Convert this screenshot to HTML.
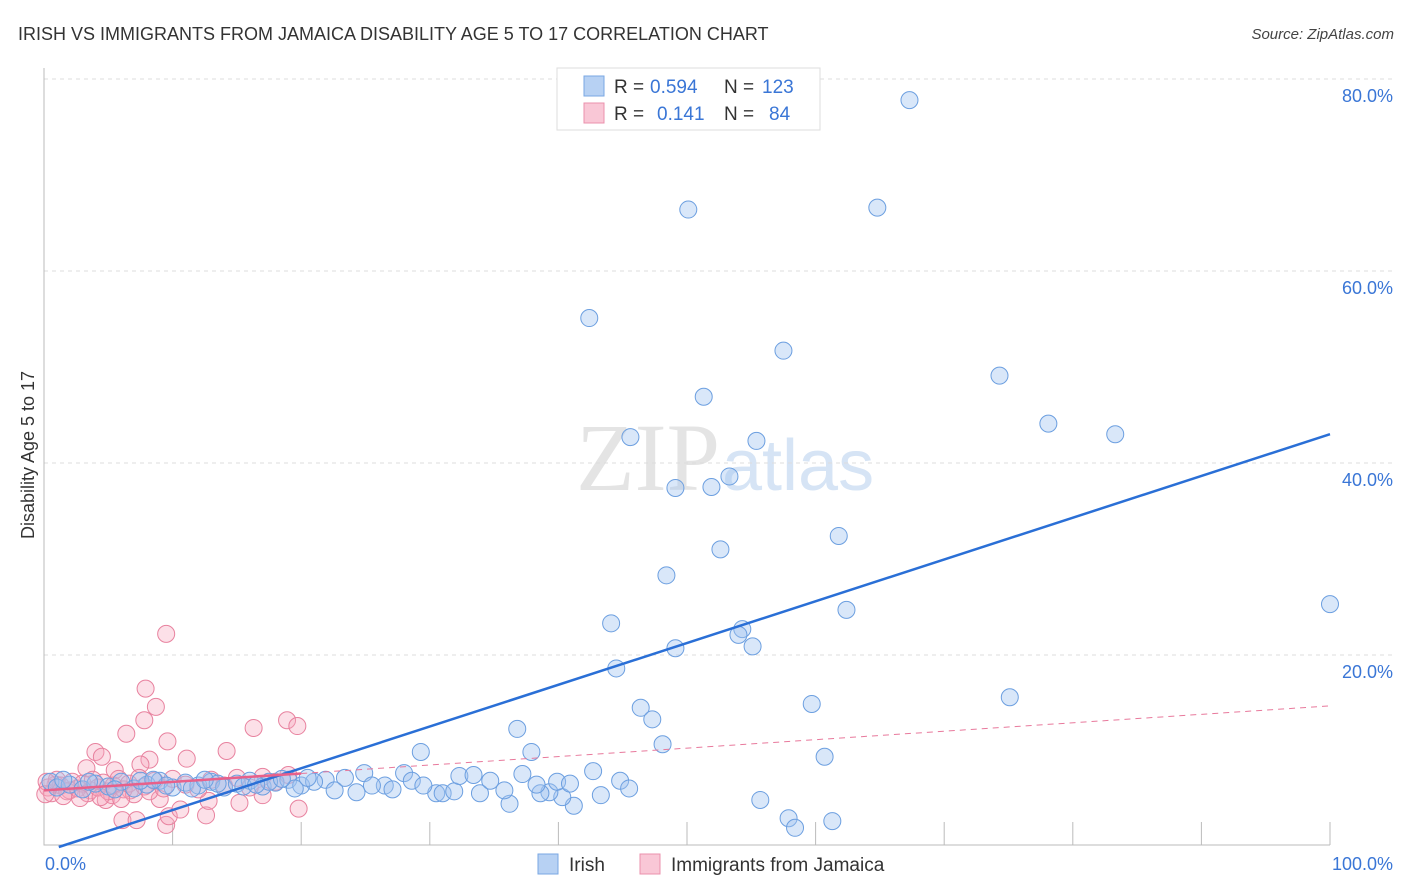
<!DOCTYPE html>
<html><head><meta charset="utf-8"><style>
body{margin:0;background:#fff;font-family:"Liberation Sans",sans-serif;}
svg{display:block}
</style></head><body>
<svg id="chart" width="1406" height="892">
<text x="18" y="40" font-size="18" fill="#333">IRISH VS IMMIGRANTS FROM JAMAICA DISABILITY AGE 5 TO 17 CORRELATION CHART</text>
<text x="1394" y="39" font-size="15" fill="#444" font-style="italic" text-anchor="end">Source: ZipAtlas.com</text>
<text transform="translate(34,455) rotate(-90)" font-size="18" fill="#333" text-anchor="middle">Disability Age 5 to 17</text>
<text x="720" y="490" font-size="96" fill="#e4e4e4" font-family="Liberation Serif,serif" text-anchor="end">ZIP</text>
<text x="722" y="490" font-size="72" fill="#d6e4f5" text-anchor="start">atlas</text>
<g id="grid"></g><g id="pts"></g><g id="lines"></g>
<g>
<rect x="557" y="68" width="263" height="62" fill="#fff" stroke="#ddd"/>
<rect x="584" y="76" width="20" height="20" fill="#b7d1f3" stroke="#7aa7e3"/>
<text x="614" y="93" font-size="19" fill="#333">R =</text>
<text x="650" y="93" font-size="19" fill="#3a76d6">0.594</text>
<text x="724" y="93" font-size="19" fill="#333">N =</text>
<text x="762" y="93" font-size="19" fill="#3a76d6">123</text>
<rect x="584" y="103" width="20" height="20" fill="#f9c7d6" stroke="#eb90ac"/>
<text x="614" y="120" font-size="19" fill="#333">R =</text>
<text x="657" y="120" font-size="19" fill="#3a76d6">0.141</text>
<text x="724" y="120" font-size="19" fill="#333">N =</text>
<text x="769" y="120" font-size="19" fill="#3a76d6">84</text>
</g>
<g>
<rect x="538" y="854" width="20" height="20" fill="#b7d1f3" stroke="#7aa7e3"/>
<text x="569" y="871" font-size="19" fill="#333">Irish</text>
<rect x="640" y="854" width="20" height="20" fill="#f9c7d6" stroke="#eb90ac"/>
<text x="671" y="871" font-size="19" fill="#333">Immigrants from Jamaica</text>
</g>
</svg>
<script>
const yTicks=[20,40,60,80];
const yTickLabels=["20.0%","40.0%","60.0%","80.0%"];
const xTickVals=[10,20,30,40,50,60,70,80,90,100];
const blueX=[67.3,50.1,64.8,42.4,57.5,74.3,51.3,78.1,83.3,45.6,55.4,53.3,49.1,51.9,52.6,61.8,48.4,100,62.4,44.1,54.3,54.0,49.1,55.1,44.5,75.1,46.4,59.7,47.3,36.8,48.1,37.9,60.7,29.3,55.7,57.9,58.4,61.3,36.2,43.3,41.2,40.3,39.3,38.6,33.9,30.5,31.0,31.9,26.5,28.0,32.3,33.4,34.7,35.8,37.2,38.3,39.9,40.9,42.7,44.8,45.5,24.9,23.4,21.9,22.6,24.3,25.5,27.1,28.6,29.5,0.5,1,2,3,4,5,6,7,8,9,10,11,12,13,14,15,16,17,18,19,20,21,1.5,3.5,5.5,7.5,9.5,11.5,13.5,15.5,17.5,19.5,8.5,12.5,16.5,18.5,20.5];
const blueY=[77.8,66.4,66.6,55.1,51.7,49.1,46.9,44.1,43.0,42.7,42.3,38.6,37.4,37.5,31.0,32.4,28.3,25.3,24.7,23.3,22.7,22.1,20.7,20.9,18.6,15.6,14.5,14.9,13.3,12.3,10.7,9.9,9.4,9.9,4.9,3.0,2.0,2.7,4.5,5.4,4.3,5.2,5.7,5.6,5.6,5.6,5.6,5.8,6.4,7.7,7.4,7.5,6.9,5.9,7.6,6.5,6.8,6.6,7.9,6.9,6.1,7.7,7.2,7.0,5.9,5.7,6.4,6.0,6.9,6.4,6.8,6.2,6.5,6.0,6.6,6.3,6.8,6.1,6.5,6.9,6.2,6.7,6.4,6.8,6.2,6.6,6.9,6.3,6.7,7.0,6.4,6.8,7.0,6.8,6.0,6.9,6.4,6.1,6.6,6.3,6.8,6.1,7.0,7.0,6.5,7.1,7.2];
const pinkX=[9.5,7.9,8.7,7.8,6.4,9.6,4.0,11.1,16.3,14.2,18.9,19.7,8.2,7.5,5.5,3.3,4.5,9.5,9.7,6.1,7.2,4.8,10.6,12.6,12.8,15.2,17.0,19.8,5.3,6.7,9.0,3.6,2.0,0.9,0.3,0.6,1,1.3,1.8,2.2,2.6,3,3.4,3.8,4.2,4.6,5,5.4,5.8,6.2,6.6,7,7.4,7.8,8.2,8.6,9.3,10,11,12,13,14,15,16,17,18,19,0.2,1.5,2.8,4.4,6,0.1];
const pinkY=[22.2,16.5,14.6,13.2,11.8,11.0,9.9,9.2,12.4,10.0,13.2,12.6,9.1,8.6,8.0,8.2,9.4,2.3,3.2,2.8,2.8,4.9,3.9,3.3,4.8,4.6,5.4,4.0,5.4,5.9,5.0,5.9,5.9,6.5,6.2,5.6,7.0,6.4,5.8,6.8,6.1,6.6,5.6,7.0,6.2,6.7,5.8,6.4,7.1,6.0,6.6,5.5,7.2,6.3,5.8,6.9,6.1,7.1,6.5,6.0,7.0,6.4,7.2,6.2,7.3,6.8,7.5,6.8,5.3,5.1,5.2,5.0,5.5];
const blueFit=[-0.5,43.0];
const pinkFit=[5.9,14.7];
const NS="http://www.w3.org/2000/svg";
const sx=v=>44+v*12.86, sy=v=>847-v*9.6;
function mk(tag,attrs,parent){const e=document.createElementNS(NS,tag);for(const k in attrs)e.setAttribute(k,attrs[k]);parent.appendChild(e);return e;}
const grid=document.getElementById('grid');
yTicks.forEach((t,i)=>{
 const l=mk('line',{x1:44,x2:1393,y1:sy(t),y2:sy(t),stroke:'#ddd','stroke-dasharray':'4,4'},grid);
 
 
 const tx=mk('text',{x:1393,y:sy(t)+23,'font-size':18,fill:'#3a76d6','text-anchor':'end'},grid);
 tx.textContent=yTickLabels[i];
 
 
});
const ax=mk('path',{d:'M44 68 V845 H1330',stroke:'#bbb',fill:'none'},grid);


xTickVals.forEach(v=>{
 const t=mk('line',{x1:sx(v),x2:sx(v),y1:822,y2:845,stroke:'#bbb'},grid);
 
 
});
const x0=mk('text',{x:45,y:870,'font-size':18,fill:'#3a76d6'},grid);x0.textContent='0.0%';


const x1=mk('text',{x:1393,y:870,'font-size':18,fill:'#3a76d6','text-anchor':'end'},grid);x1.textContent='100.0%';


const pts=document.getElementById('pts');
pinkX.forEach((x,i)=>{
 const c=mk('circle',{cx:sx(x),cy:sy(pinkY[i]),r:8.5,fill:'rgba(245,165,190,0.35)',stroke:'#e8829f','stroke-width':1},pts);
 
 
});
blueX.forEach((x,i)=>{
 const c=mk('circle',{cx:sx(x),cy:sy(blueY[i]),r:8.5,fill:'rgba(160,196,240,0.4)',stroke:'#6c9fe0','stroke-width':1},pts);
 
 
});
const lines=document.getElementById('lines');
const bx0=(0-blueFit[0])/(blueFit[1]-blueFit[0])*100;
const bl=mk('line',{x1:sx(bx0),y1:sy(0),x2:sx(100),y2:sy(blueFit[1]),stroke:'#2a6fd6','stroke-width':2.5},lines);


const pAt=v=>pinkFit[0]+(pinkFit[1]-pinkFit[0])*v/100;
const ps=mk('line',{x1:sx(0),y1:sy(pAt(0)),x2:sx(20),y2:sy(pAt(20)),stroke:'#e8608a','stroke-width':2.5},lines);


const pd=mk('line',{x1:sx(20),y1:sy(pAt(20)),x2:sx(100),y2:sy(pAt(100)),stroke:'#e8799c','stroke-width':1,'stroke-dasharray':'6,5'},lines);


</script>
</body></html>
